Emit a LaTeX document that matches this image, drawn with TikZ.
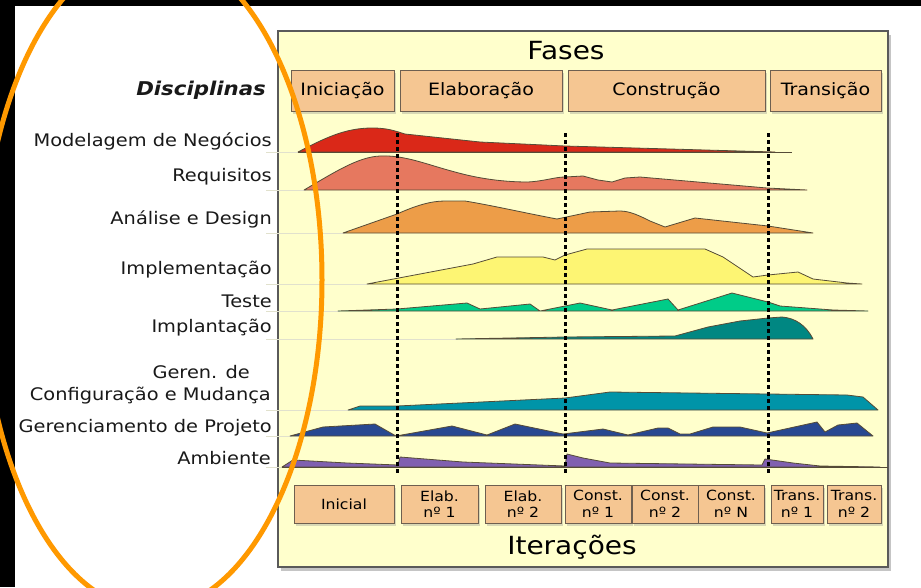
\documentclass[tikz,border=0pt]{standalone}
\usepackage{fontspec}
\setmainfont{DejaVu Sans}[FakeStretch=1.12]
\usetikzlibrary{shadows}

\tikzset{
    painel/.style={draw={rgb,255:red,90; green,90; blue,90}, fill={rgb,255:red,255; green,255; blue,204}, line width=1.5pt,
        drop shadow={opacity=0.45, shadow xshift=3pt, shadow yshift=-4pt}},
    caixa/.style={draw={rgb,255:red,110; green,95; blue,80}, fill={rgb,255:red,245; green,198; blue,146}, line width=1pt,
        inner sep=0pt, align=center, drop shadow={opacity=0.3, shadow xshift=2pt, shadow yshift=-3pt}},
    fasebox/.style={caixa, minimum height=41pt, font=\fontsize{17}{20}\selectfont},
    iterbox/.style={caixa, minimum height=38pt, font=\fontsize{14}{16.5}\selectfont},
    disc/.style={anchor=east, inner sep=0pt, text={rgb,255:red,25; green,25; blue,25}, font=\fontsize{17.3}{21}\selectfont},
    titulo/.style={inner sep=0pt, font=\fontsize{25}{28}\selectfont},
    curva/.style={draw={rgb,255:red,85; green,75; blue,55}, line width=0.8pt, line join=round},
    guia/.style={draw={rgb,255:red,225; green,225; blue,205}, line width=1pt},
    marco/.style={line width=3pt, dash pattern=on 4pt off 3pt, black},
    oval/.style={draw={rgb,255:red,255; green,153; blue,0}, line width=5pt}
}

\begin{document}
\begin{tikzpicture}[x=1pt, y=-1pt]
    \useasboundingbox (0,0) rectangle (921,587);
    \clip (0,0) rectangle (921,587);
    \fill[black] (0,0) rectangle (921,587);
    \fill[white] (15,6) rectangle (921,587);

    %#painel
    \draw[painel] (278,31) rectangle (888,567);
    \node[titulo] (fases) at (566,51) {Fases};
    \node[titulo] (iteracoes) at (572,547) {Iterações};

    \node[fasebox, minimum width=103pt] (ini) at (342.5,90.5) {Iniciação};
    \node[fasebox, minimum width=162pt] (elab) at (481,90.5) {Elaboração};
    \node[fasebox, minimum width=197pt] (const) at (666.5,90.5) {Construção};
    \node[fasebox, minimum width=111pt] (trans) at (825.5,90.5) {Transição};

    %#disciplinas
    \node[disc, font=\fontsize{19}{22}\selectfont\bfseries\itshape] (disciplinas) at (266,90) {Disciplinas};
    \node[disc] (modelagem) at (272,141) {Modelagem de Negócios};
    \node[disc] (requisitos) at (272,177) {Requisitos};
    \node[disc] (analise) at (272,219) {Análise e Design};
    \node[disc] (implementacao) at (272,270) {Implementação};
    \node[disc] (teste) at (272,301) {Teste};
    \node[disc] (implantacao) at (272,328) {Implantação};
    \node[disc] (geren) at (250,372) {Geren. de};
    \node[disc] (config) at (271,396) {Configuração e Mudança};
    \node[disc] (projeto) at (272,428) {Gerenciamento de Projeto};
    \node[disc] (ambiente) at (271,458) {Ambiente};

    \draw[guia] (266,152) -- (300,152);
    \draw[guia] (266,190) -- (306,190);
    \draw[guia] (266,233) -- (345,233);
    \draw[guia] (266,284) -- (369,284);
    \draw[guia] (266,311) -- (340,311);
    \draw[guia] (266,339) -- (458,339);
    \draw[guia] (266,410) -- (350,410);
    \draw[guia] (266,436) -- (292,436);
    \draw[guia] (266,467) -- (284,467);

    %#curvas
    \draw[curva, fill={rgb,255:red,218; green,40; blue,24}] (298,152) .. controls (325,138) and (345,128) .. (372,128) .. controls (388,128) and (395,131) .. (405,134) -- (480,142) -- (565,146) -- (775,152) -- cycle;
    \draw[curva] (298,152) -- (792,152);
    \draw[curva, fill={rgb,255:red,230; green,120; blue,95}] (304,190) .. controls (335,172) and (358,157) .. (380,156) .. controls (405,155) and (425,164) .. (455,172) .. controls (480,179) and (505,182) .. (528,182) .. controls (545,181) and (555,177) .. (565,177) -- (583,176) -- (598,180) -- (612,182) -- (625,178) -- (640,177) -- (767,188) -- (807,190) -- cycle;
    \draw[curva, fill={rgb,255:red,237; green,157; blue,72}] (343,233) -- (397,214) .. controls (415,206) and (430,201) .. (445,201) -- (465,201) .. controls (490,205) and (530,214) .. (557,219) -- (590,212) -- (620,211) .. controls (630,211) and (640,216) .. (650,221) -- (665,227) -- (695,218) -- (768,226) -- (813,233) -- cycle;
    \draw[curva, fill={rgb,255:red,253; green,245; blue,115}] (367,284) -- (473,264) -- (497,257) -- (543,257) -- (555,260) -- (565,255) -- (587,249) -- (705,249) -- (723,257) -- (753,277) -- (768,275) -- (798,272) -- (813,279) -- (847,283) -- (862,284) -- cycle;
    \draw[curva, fill={rgb,255:red,0; green,204; blue,136}] (338,311) -- (397,309) -- (467,303) -- (480,309) -- (530,304) -- (540,311) -- (565,306) -- (580,303) -- (612,310) -- (668,299) -- (678,310) -- (732,293) -- (768,302) -- (780,306) -- (833,310) -- (868,311) -- cycle;
    \draw[curva, fill={rgb,255:red,0; green,135; blue,130}] (456,339) -- (565,337) -- (675,336) -- (708,327) -- (740,321) -- (768,318) -- (782,317) .. controls (795,318) and (806,325) .. (813,339) -- cycle;
    \draw[curva, fill={rgb,255:red,0; green,148; blue,168}] (348,410) -- (360,406) -- (397,406) -- (565,398) -- (610,392) -- (847,395) -- (863,397) -- (878,410) -- cycle;
    \draw[curva, fill={rgb,255:red,40; green,72; blue,145}] (290,436) -- (323,427) -- (375,424) -- (396,436) -- (452,426) -- (487,435) -- (515,424) -- (563,434) -- (603,429) -- (628,435) -- (658,428) -- (668,428) -- (680,434) -- (690,434) -- (713,427) -- (740,427) -- (767,433) -- (817,422) -- (825,432) -- (838,425) -- (857,423) -- (873,436) -- cycle;
    \draw[curva, fill={rgb,255:red,128; green,96; blue,176}] (282,467) -- (293,460) -- (347,463) -- (398,465) -- (400,457) -- (463,462) -- (565,466) -- (567,454) -- (583,458) -- (610,463) -- (762,465) -- (765,459) -- (793,463) -- (820,466) -- (880,467) -- cycle;
    \draw[curva] (282,467) -- (888,467);

    \draw[marco] (397,133) -- (397,474);
    \draw[marco] (565,133) -- (565,474);
    \draw[marco] (768,133) -- (768,474);

    %#iteracoes
    \node[iterbox, minimum width=100pt] (inicial) at (344,504) {Inicial};
    \node[iterbox, minimum width=77pt] (elab1) at (439.5,504) {Elab.\\nº 1};
    \node[iterbox, minimum width=76pt] (elab2) at (523,504) {Elab.\\nº 2};
    \node[iterbox, minimum width=66pt] (const1) at (598,504) {Const.\\nº 1};
    \node[iterbox, minimum width=66pt] (const2) at (665,504) {Const.\\nº 2};
    \node[iterbox, minimum width=66pt] (constn) at (731,504) {Const.\\nº N};
    \node[iterbox, minimum width=52pt] (trans1) at (797,504) {Trans.\\nº 1};
    \node[iterbox, minimum width=54pt] (trans2) at (854,504) {Trans.\\nº 2};

    %#destaque
    \draw[oval] (152,280) ellipse [x radius=170, y radius=330];
\end{tikzpicture}
\end{document}
